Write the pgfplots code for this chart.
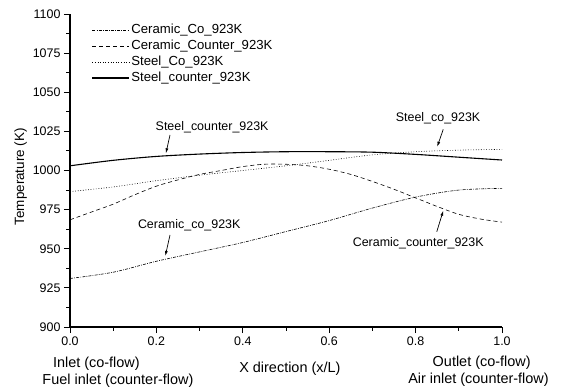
\documentclass[border=0pt]{standalone}
\usepackage{fontspec}
\setmainfont{Liberation Sans}
\usepackage{pgfplots}
\pgfplotsset{compat=1.18}
\usetikzlibrary{arrows.meta}
\begin{document}
\begin{tikzpicture}
\begin{axis}[
  name=ax,
  scale only axis,
  width=432bp, height=313bp,
  xmin=0, xmax=1, ymin=900, ymax=1100,
  axis lines=left,
  axis line style={-, line width=1.1bp},
  tick align=outside,
  major tick length=6bp, minor tick length=3.5bp,
  tick style={line width=0.9bp, black},
  xtick={0,0.2,0.4,0.6,0.8,1.0},
  ytick={900,925,950,975,1000,1025,1050,1075,1100},
  minor x tick num=1, minor y tick num=1,
  xticklabel style={/pgf/number format/.cd, fixed, fixed zerofill, precision=1},
  yticklabel style={/pgf/number format/.cd, fixed, 1000 sep={}},
  /pgf/number format/assume math mode=true,
  tick label style={font=\fontsize{12.5}{14}\selectfont},
  ylabel={Temperature (K)},
  ylabel style={at={(axis description cs:-0.114,0.48)}, anchor=center, font=\fontsize{13.5}{16}\selectfont},
  xlabel={X direction (x/L)},
  xlabel style={at={(axis description cs:0.509,-0.134)}, anchor=center, font=\fontsize{14.5}{17}\selectfont},
  clip=false,
  legend cell align=left,
  legend image code/.code={\draw[#1] (0bp,0bp) -- (37bp,0bp);},
  legend style={draw=none, fill=none, at={(axis description cs:0.05,0.975)}, anchor=north west,
    inner sep=0pt, row sep=0pt,
    nodes={inner sep=1.5bp, text height=10bp, text depth=3bp, font=\fontsize{13.2}{15}\selectfont}},
]
% Ceramic_Co_923K
\addplot[black, line width=0.6bp, dash pattern=on 3bp off 1.2bp on 0.8bp off 1.2bp, smooth] coordinates {
(0,931) (0.1,935) (0.2,942) (0.3,948) (0.4,954) (0.5,961) (0.6,968) (0.7,976) (0.8,983) (0.9,987.5) (1.0,988.6)};
\addlegendentry{Ceramic\_Co\_923K}
% Ceramic_Counter_923K
\addplot[black, line width=0.6bp, dash pattern=on 4bp off 3bp, smooth] coordinates {
(0,968.5) (0.05,973.5) (0.1,978.5) (0.15,984.5) (0.2,990) (0.25,994) (0.3,997.5) (0.35,1000) (0.4,1002.5) (0.45,1004) (0.5,1004) (0.55,1003) (0.6,1000.8) (0.65,997.5) (0.7,993) (0.75,988) (0.8,982.5) (0.85,977) (0.9,972) (0.95,969) (1.0,967)};
\addlegendentry{Ceramic\_Counter\_923K}
% Steel_Co_923K
\addplot[black, line width=0.6bp, dash pattern=on 0.8bp off 1.8bp, smooth] coordinates {
(0,986.5) (0.1,989.5) (0.2,993.5) (0.3,997) (0.4,1000) (0.5,1003) (0.6,1006.5) (0.7,1010) (0.8,1012) (0.9,1013) (1.0,1013.5)};
\addlegendentry{Steel\_Co\_923K}
% Steel_counter_923K
\addplot[black, line width=1.1bp, smooth] coordinates {
(0,1003) (0.1,1006.5) (0.2,1009) (0.3,1010.5) (0.4,1011.5) (0.5,1012) (0.6,1012) (0.7,1011.7) (0.8,1010.3) (0.9,1008.5) (1.0,1006.7)};
\addlegendentry{Steel\_counter\_923K}

% annotations
\node[font=\fontsize{12.5}{15}\selectfont] at (axis cs:0.329,1027.6) {Steel\_counter\_923K};
\draw[-{Latex[length=5bp,width=3bp]}, line width=0.7bp] (axis cs:0.2315,1022.7) -- (axis cs:0.222,1011);
\node[font=\fontsize{12.5}{15}\selectfont] at (axis cs:0.276,965.2) {Ceramic\_co\_923K};
\draw[-{Latex[length=5bp,width=3bp]}, line width=0.7bp] (axis cs:0.2315,958.8) -- (axis cs:0.2206,945.4);
\node[font=\fontsize{12.5}{15}\selectfont] at (axis cs:0.852,1033.4) {Steel\_co\_923K};
\draw[-{Latex[length=5bp,width=3bp]}, line width=0.7bp] (axis cs:0.864,1026.3) -- (axis cs:0.850,1015.2);
\node[font=\fontsize{12.5}{15}\selectfont] at (axis cs:0.806,953.5) {Ceramic\_counter\_923K};
\draw[-{Latex[length=5bp,width=3bp]}, line width=0.7bp] (axis cs:0.849,960.9) -- (axis cs:0.864,974.3);

% bottom descriptions
\node[font=\fontsize{14.5}{17}\selectfont] at (axis description cs:0.061,-0.116) {Inlet (co-flow)};
\node[font=\fontsize{14.5}{17}\selectfont] at (axis description cs:0.111,-0.1725) {Fuel inlet (counter-flow)};
\node[font=\fontsize{14.5}{17}\selectfont] at (axis description cs:0.953,-0.114) {Outlet (co-flow)};
\node[font=\fontsize{14.5}{17}\selectfont] at (axis description cs:0.9456,-0.169) {Air inlet (counter-flow)};
\end{axis}
\pgfresetboundingbox
\path (ax.south west) ++(-70bp,-64bp) rectangle ++(565bp,391bp);
\end{tikzpicture}
\end{document}
